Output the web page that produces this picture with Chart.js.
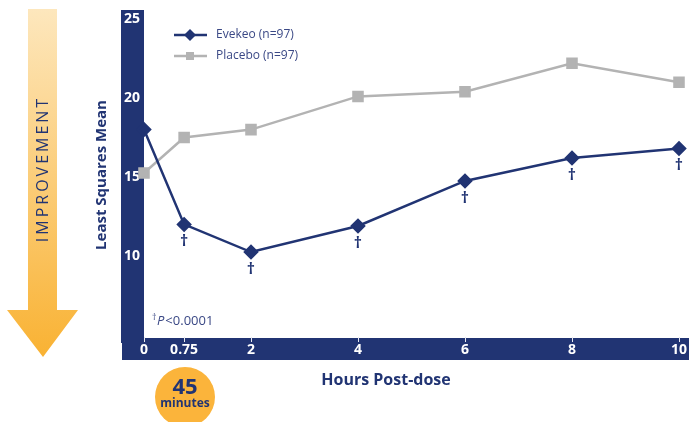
<!DOCTYPE html>
<html>
<head>
<meta charset="utf-8">
<script src="https://cdn.jsdelivr.net/npm/chart.js@4.4.1/dist/chart.umd.min.js"></script>
<style>
  html, body { margin: 0; padding: 0; background: #fff; }
  #wrap { width: 689px; height: 422px; position: relative; }
</style>
</head>
<body>
<div id="wrap"><canvas id="chart" width="689" height="422"></canvas></div>
<script>
// Chart data
const hours = [0, 0.75, 2, 4, 6, 8, 10];
const evekeoValues = [18.0, 12.0, 10.25, 11.9, 14.75, 16.2, 16.8];
const placeboValues = [15.25, 17.5, 18.0, 20.1, 20.4, 22.2, 21.0];
const significant = [false, true, true, true, true, true, true];
const xTickLabels = [0, 0.75, 2, 4, 6, 8, 10];
const yTickLabels = [10, 15, 20, 25];
const legendLabels = ['Evekeo (n=97)', 'Placebo (n=97)'];

const NAVY = '#213473';
const GREY = '#b3b3b3';
const FONT = '"Open Sans", "DejaVu Sans", sans-serif';

// Draws the navy axis bands and their white tick labels
const axisBands = {
    id: 'axisBands',
    beforeDatasetsDraw(chart) {
        const ctx = chart.ctx;
        const xs = chart.scales.x;
        const ys = chart.scales.y;
        ctx.save();
        ctx.fillStyle = NAVY;
        ctx.fillRect(121, 10, 23, 333);
        ctx.fillRect(122, 338, 689 - 122, 22);

        ctx.fillStyle = '#fff';
        ctx.font = 'bold 14px ' + FONT;
        ctx.textAlign = 'center';
        ctx.textBaseline = 'middle';
        yTickLabels.forEach(v => {
            ctx.fillText(String(v), 132, ys.getPixelForValue(v));
        });
        ctx.strokeStyle = '#e6e8f0';
        ctx.lineWidth = 1;
        xTickLabels.forEach(v => {
            const px = xs.getPixelForValue(v);
            ctx.beginPath();
            ctx.moveTo(Math.round(px) + 0.5, 337);
            ctx.lineTo(Math.round(px) + 0.5, 342);
            ctx.stroke();
            ctx.fillText(String(v), px, 350);
        });
        ctx.restore();
    },
    afterDraw(chart) {
        const ctx = chart.ctx;
        const xs = chart.scales.x;
        const ys = chart.scales.y;
        ctx.save();

        // daggers under Evekeo points
        ctx.fillStyle = NAVY;
        ctx.font = 'bold 16px ' + FONT;
        ctx.textAlign = 'center';
        ctx.textBaseline = 'middle';
        hours.forEach((h, i) => {
            if (significant[i]) {
                ctx.fillText('\u2020', xs.getPixelForValue(h), ys.getPixelForValue(evekeoValues[i]) + 17);
            }
        });

        // legend
        ctx.lineWidth = 2.5;
        ctx.strokeStyle = NAVY;
        ctx.beginPath(); ctx.moveTo(174, 35); ctx.lineTo(207, 35); ctx.stroke();
        ctx.fillStyle = NAVY;
        ctx.beginPath();
        ctx.moveTo(190, 29); ctx.lineTo(196, 35); ctx.lineTo(190, 41); ctx.lineTo(184, 35);
        ctx.closePath(); ctx.fill();
        ctx.strokeStyle = GREY;
        ctx.beginPath(); ctx.moveTo(174, 56); ctx.lineTo(207, 56); ctx.stroke();
        ctx.fillStyle = GREY;
        ctx.fillRect(186, 52, 8, 8);
        ctx.fillStyle = '#3a4885';
        ctx.font = '12px ' + FONT;
        ctx.textAlign = 'left';
        ctx.fillText(legendLabels[0], 216, 35);
        ctx.fillText(legendLabels[1], 216, 56);

        // p value note
        ctx.font = '9px ' + FONT;
        ctx.fillText('\u2020', 152, 317);
        ctx.font = 'italic 13px ' + FONT;
        ctx.fillText('P', 157, 321);
        const pw = ctx.measureText('P').width;
        ctx.font = '13px ' + FONT;
        ctx.fillText('<0.0001', 157 + pw + 1, 321);

        // axis titles
        ctx.fillStyle = NAVY;
        ctx.font = 'bold 16px ' + FONT;
        ctx.textAlign = 'center';
        ctx.fillText('Hours Post-dose', 386, 380);
        ctx.save();
        ctx.translate(102, 175);
        ctx.rotate(-Math.PI / 2);
        ctx.font = 'bold 15px ' + FONT;
        ctx.fillText('Least Squares Mean', 0, 0);
        ctx.restore();

        // improvement arrow
        const grad = ctx.createLinearGradient(0, 9, 0, 357);
        grad.addColorStop(0, '#fde7bd');
        grad.addColorStop(1, '#f9b233');
        ctx.fillStyle = grad;
        ctx.beginPath();
        ctx.moveTo(28, 9); ctx.lineTo(57, 9); ctx.lineTo(57, 310);
        ctx.lineTo(78, 310); ctx.lineTo(43, 357); ctx.lineTo(7, 310);
        ctx.lineTo(28, 310); ctx.closePath(); ctx.fill();
        ctx.save();
        ctx.translate(43, 170);
        ctx.rotate(-Math.PI / 2);
        ctx.fillStyle = NAVY;
        ctx.font = '16px ' + FONT;
        ctx.letterSpacing = '3px';
        ctx.fillText('IMPROVEMENT', 1, 0);
        ctx.restore();

        // 45 minutes badge
        ctx.fillStyle = '#fbb43b';
        ctx.beginPath();
        ctx.arc(185, 397, 30, 0, Math.PI * 2);
        ctx.fill();
        ctx.fillStyle = NAVY;
        ctx.font = 'bold 22px ' + FONT;
        ctx.fillText('45', 185, 388);
        ctx.font = 'bold 12px ' + FONT;
        ctx.fillText('minutes', 185, 404);

        ctx.restore();
    }
};

const ctx = document.getElementById('chart');
new Chart(ctx, {
    type: 'line',
    data: {
        datasets: [{
            label: legendLabels[0],
            data: hours.map((h, i) => ({ x: h, y: evekeoValues[i] })),
            borderColor: NAVY,
            backgroundColor: NAVY,
            borderWidth: 2.5,
            pointStyle: 'rectRot',
            pointRadius: 6,
            tension: 0,
            clip: false
        }, {
            label: legendLabels[1],
            data: hours.map((h, i) => ({ x: h, y: placeboValues[i] })),
            borderColor: GREY,
            backgroundColor: GREY,
            borderWidth: 2.5,
            pointStyle: 'rect',
            pointRadius: 6.4,
            tension: 0,
            clip: false
        }]
    },
    options: {
        responsive: false,
        animation: false,
        layout: { padding: { left: 144, right: 10, top: 19, bottom: 87 } },
        plugins: {
            legend: { display: false },
            tooltip: { enabled: false }
        },
        scales: {
            x: { type: 'linear', min: 0, max: 10, display: false },
            y: { min: 5, max: 25, display: false }
        }
    },
    plugins: [axisBands]
});
</script>
</body>
</html>
